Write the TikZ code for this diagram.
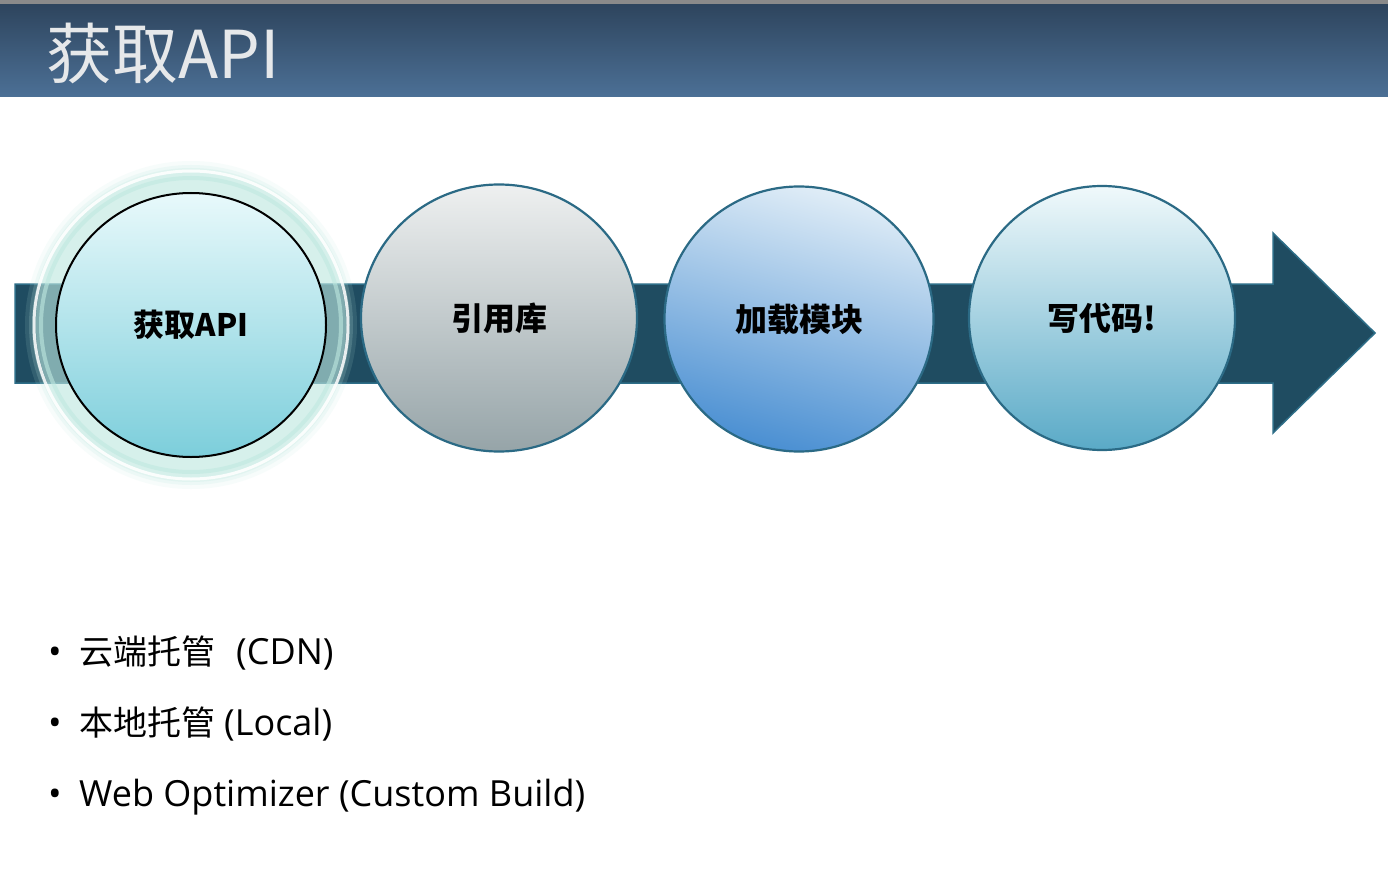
\documentclass[tikz,border=0pt]{standalone}
\usepackage{fontspec}
\usetikzlibrary{shapes.geometric}
\setmainfont{Open Sans}
\newfontfamily\cjk{Noto Sans CJK SC}
\definecolor{topgray}{HTML}{8A8A8A}
\definecolor{bartop}{HTML}{2E455E}
\definecolor{barbot}{HTML}{4C7096}
\definecolor{titletxt}{HTML}{E6E8EA}
\definecolor{band}{HTML}{1F4C61}
\definecolor{bandedge}{HTML}{2E6E88}
\definecolor{mint}{HTML}{BFE9E0}
\definecolor{cedge}{HTML}{2B6A85}
\definecolor{aTop}{HTML}{E8F9FB}
\definecolor{aBot}{HTML}{7CCEDB}
\definecolor{bTop}{HTML}{EEF0F0}
\definecolor{bBot}{HTML}{96A4A8}
\definecolor{cTop}{HTML}{E0EDF7}
\definecolor{cBot}{HTML}{4A8FD2}
\definecolor{dTop}{HTML}{F0F9FB}
\definecolor{dBot}{HTML}{5AAAC7}
\tikzset{
  bubble/.style={ellipse, inner sep=0pt, line width=2.2pt, draw=cedge,
    font=\cjk\bfseries\fontsize{32}{36}\selectfont, text=black},
  bullet/.style={anchor=base west, inner sep=0pt, font=\fontsize{36}{40}\selectfont, text=black}
}
\newcommand{\zh}[1]{{\cjk\fontsize{34}{40}\selectfont #1}}
\begin{document}
\begin{tikzpicture}[x=1pt,y=-1pt]
\useasboundingbox (0,0) rectangle (1388,893);
\fill[white] (0,0) rectangle (1388,893);
% header
\fill[topgray] (0,0) rectangle (1388,5);
\shade[top color=bartop, bottom color=barbot] (0,5) rectangle (1388,97);
\node[anchor=base west, inner sep=0pt, text=titletxt, font=\cjk\fontsize{66}{72}\selectfont] (title) at (46,79) {获取API};
% band arrow
\filldraw[fill=band, draw=bandedge, line width=1.5pt]
  (15,284) -- (1273,284) -- (1273,233) -- (1375,333) -- (1273,433) -- (1273,383) -- (15,383) -- cycle;
% glow around first circle
\coordinate (g1) at (191,325);
\foreach \r/\o in {164/0.12,160/0.18,157/0.24,153/0.3}{
  \fill[mint, opacity=\o] (g1) ellipse ({\r+2} and \r);
}
\draw[white, line width=3pt, opacity=0.85] (g1) ellipse (157 and 154);
\draw[mint, line width=4pt, opacity=0.6] (g1) ellipse (150 and 147);
% circles
\node[bubble, minimum width=270pt, minimum height=264pt, draw=black, line width=2pt, top color=aTop, bottom color=aBot, font=\cjk\bfseries\fontsize{31}{36}\selectfont] (c1) at (g1) {获取API};
\node[bubble, minimum width=276pt, minimum height=267pt, top color=bTop, bottom color=bBot] (c2) at (499,318) {引用库};
\node[bubble, minimum width=269pt, minimum height=265pt, shading=axis, top color=cTop, bottom color=cBot, shading angle=-15] (c3) at (799,319) {加载模块};
\node[bubble, minimum width=266pt, minimum height=264pt, top color=dTop, bottom color=dBot] (c4) at (1102,318) {写代码!};
% bullets
\node[bullet] (b1) at (48,664) {\makebox[31pt][l]{•}\zh{云端托管}\hspace{21pt}(CDN)};
\node[bullet] (b2) at (48,735) {\makebox[31pt][l]{•}\zh{本地托管}\hspace{9pt}(Local)};
\node[bullet] (b3) at (48,806) {\makebox[31pt][l]{•}Web Optimizer (Custom Build)};
\end{tikzpicture}
\end{document}
